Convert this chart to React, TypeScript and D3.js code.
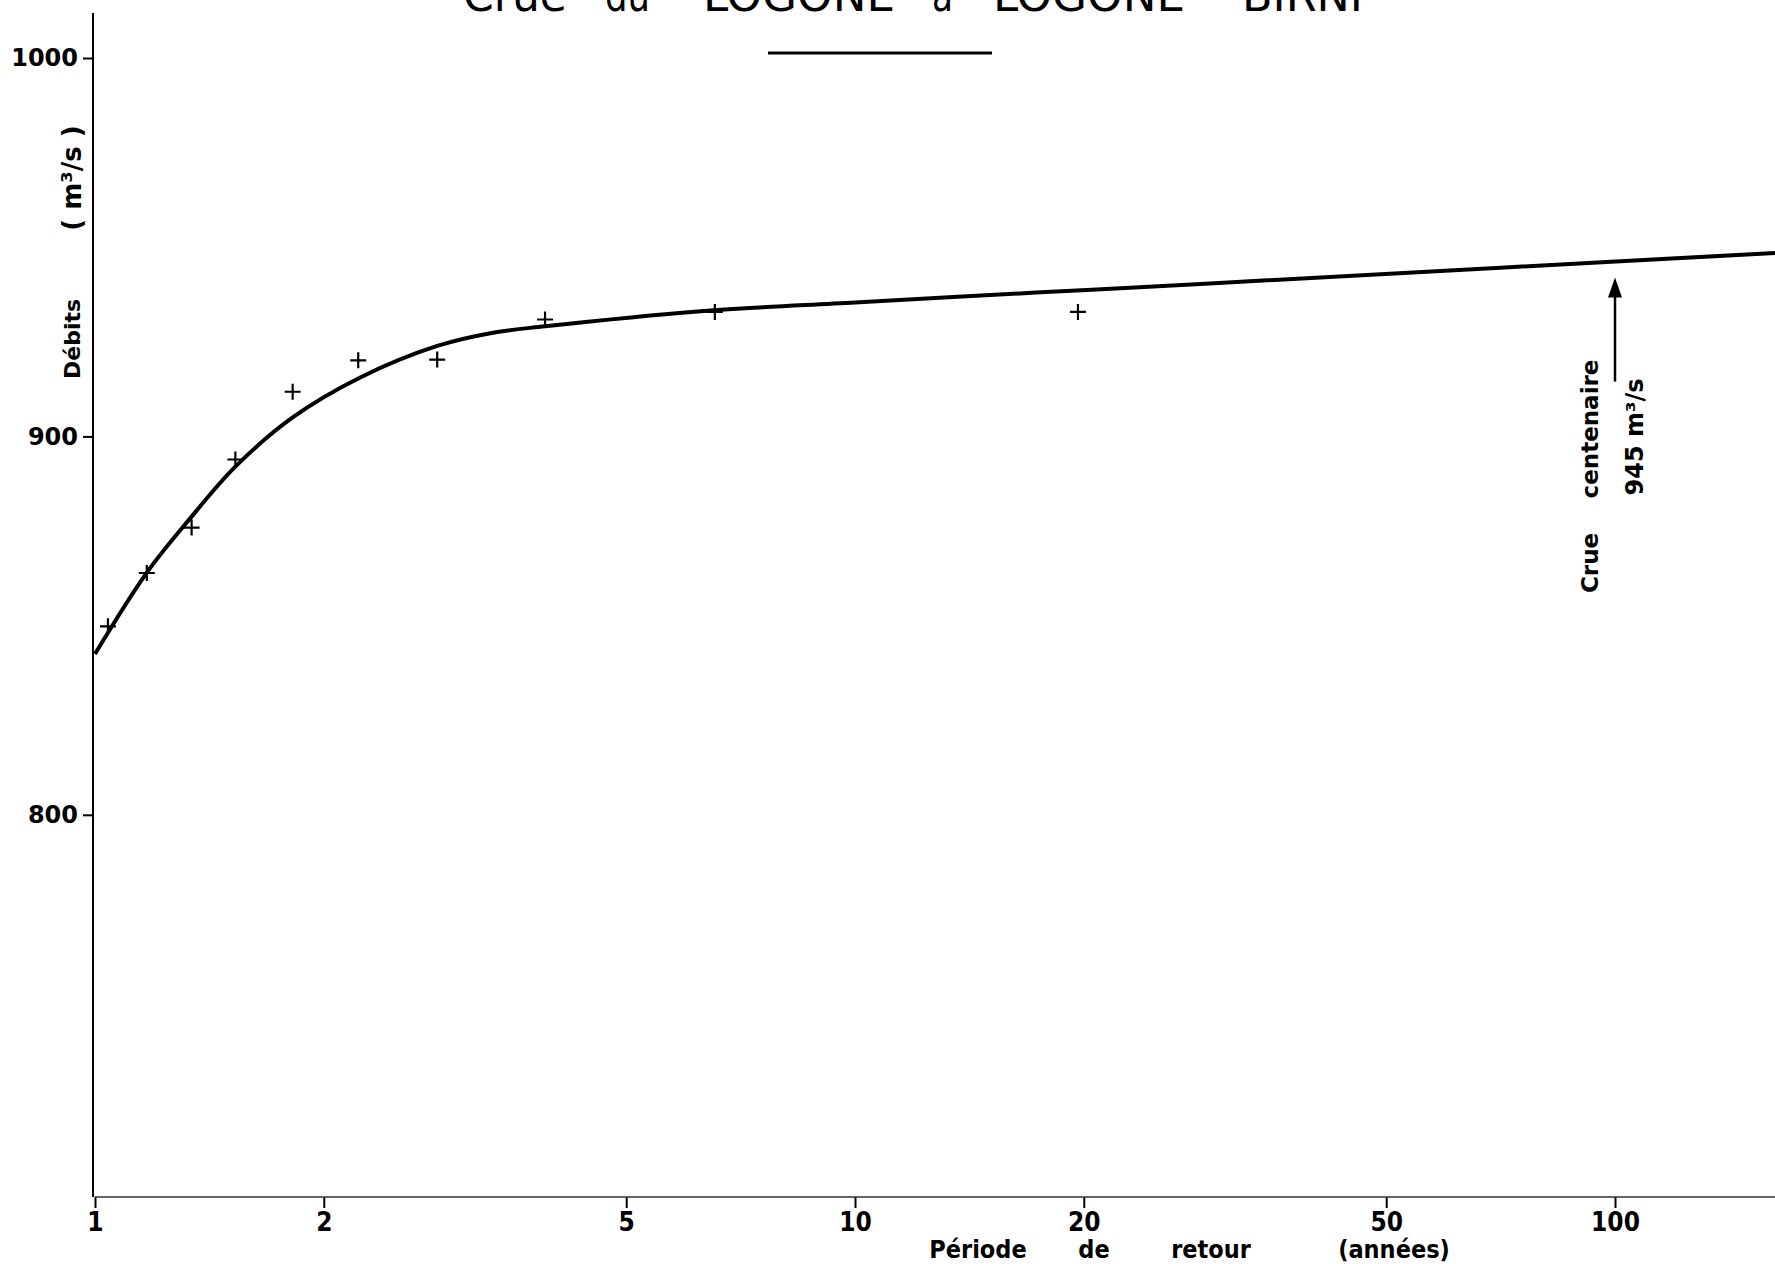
import React, { useEffect, useRef } from "react";
import * as d3 from "d3";

// fitted curve (return period in years, discharge in m3/s)
const curvePeriods = [1, 1.17, 1.33, 1.53, 1.82, 2.23, 2.82, 3.34, 3.91, 6.27, 10, 17.3, 28.5, 70.7, 163];
const curveFlows = [842.5, 864, 878, 892, 905, 915.5, 923.9, 927.4, 929.1, 933.1, 935.4, 938.0, 940.3, 944.6, 948.5];

// observed floods (crosses)
const obsPeriods = [1.04, 1.17, 1.34, 1.53, 1.82, 2.22, 2.82, 3.91, 6.54, 19.65];
const obsFlows = [849.8, 863.9, 875.9, 893.9, 911.8, 920.1, 920.3, 930.9, 932.9, 932.9];

const xTicks = [1, 2, 5, 10, 20, 50, 100];
const yTicks = [800, 900, 1000];

const titleWords = ["Crue", "du", "LOGONE", "à", "LOGONE", "–", "BIRNI"];
const xLabelWords = ["Période", "de", "retour", "(années)"];

const centennialFlow = 945;

function App() {
    const node = useRef<SVGSVGElement>(null);

    useEffect(() => {
        document.body.style.margin = "0";
        document.body.style.overflow = "hidden";

        const width = 1775, height = 1264;
        const svg = d3.select(node.current);
        svg.selectAll("*").remove();

        const x = d3.scaleLog().domain([1, 163]).range([95, 95 + 760 * Math.log10(163)]);
        const y = d3.scaleLinear().domain([699, 1000]).range([1197, 58]);

        const font = "'DejaVu Sans', sans-serif";

        svg.append("rect").attr("width", width).attr("height", height).attr("fill", "#fff");

        // title, cut by the top edge like the scan
        const titleX = [[463, 567], [605, 650], [703, 895], [932, 953], [993, 1185], [1210, 1223], [1242, 1363]];
        svg.append("g").selectAll("text")
            .data(titleWords)
            .join("text")
            .attr("x", (d, i) => titleX[i][0])
            .attr("y", 11)
            .attr("textLength", (d, i) => titleX[i][1] - titleX[i][0])
            .attr("lengthAdjust", "spacingAndGlyphs")
            .style("font-family", font)
            .style("font-size", "44px")
            .style("fill", "#000")
            .text(d => d);

        svg.append("line")
            .attr("x1", 768).attr("x2", 992)
            .attr("y1", 53).attr("y2", 53)
            .style("stroke", "#000")
            .style("stroke-width", 3);

        // y axis
        const yAxis = svg.append("g")
            .attr("transform", "translate(93,0)")
            .call(d3.axisLeft(y).tickValues(yTicks).tickSize(10).tickPadding(5).tickFormat(d3.format("d")));
        yAxis.select(".domain").remove();
        yAxis.selectAll("line").style("stroke", "#000").style("stroke-width", 2);
        yAxis.selectAll("text")
            .style("font-family", font)
            .style("font-weight", "bold")
            .style("font-size", "24px")
            .style("fill", "#000");

        svg.append("line")
            .attr("x1", 93).attr("x2", 93)
            .attr("y1", y(1011.9)).attr("y2", y(699))
            .style("stroke", "#000")
            .style("stroke-width", 2);

        // x axis
        const xAxis = svg.append("g")
            .attr("transform", `translate(0,${y(699)})`)
            .call(d3.axisBottom(x).tickValues(xTicks).tickSize(11).tickPadding(5).tickFormat(d3.format("d")));
        xAxis.select(".domain").remove();
        xAxis.selectAll("line").style("stroke", "#000").style("stroke-width", 2);
        xAxis.selectAll("text")
            .style("font-family", font)
            .style("font-weight", "bold")
            .style("font-stretch", "condensed")
            .style("font-size", "26px")
            .style("fill", "#000");

        svg.append("line")
            .attr("x1", x(1)).attr("x2", width)
            .attr("y1", y(699)).attr("y2", y(699))
            .style("stroke", "#333")
            .style("stroke-width", 1.6);

        // axis titles
        const xLabelX = [978, 1094, 1211, 1394];
        svg.append("g").selectAll("text")
            .data(xLabelWords)
            .join("text")
            .attr("x", (d, i) => xLabelX[i])
            .attr("y", 1258)
            .style("text-anchor", "middle")
            .style("font-family", font)
            .style("font-weight", "bold")
            .style("font-stretch", "condensed")
            .style("font-size", "25px")
            .text(d => d);

        svg.append("text")
            .attr("transform", "translate(80,339) rotate(-90)")
            .style("text-anchor", "middle")
            .style("font-family", font)
            .style("font-weight", "bold")
            .style("font-size", "22px")
            .text("Débits");

        svg.append("text")
            .attr("transform", "translate(81,178) rotate(-90)")
            .style("text-anchor", "middle")
            .style("font-family", font)
            .style("font-weight", "bold")
            .style("font-size", "26px")
            .style("white-space", "pre")
            .text("( m³/s )");

        // fitted curve
        const line = d3.line<number>()
            .x((d, i) => x(curvePeriods[i]))
            .y(d => y(d))
            .curve(d3.curveCatmullRom.alpha(0.5));

        svg.append("path")
            .datum(curveFlows)
            .attr("d", line)
            .style("fill", "none")
            .style("stroke", "#000")
            .style("stroke-width", 4)
            .style("stroke-linejoin", "round");

        // observed points
        const crosses = svg.append("g")
            .selectAll("g")
            .data(obsFlows)
            .join("g")
            .attr("transform", (d, i) => `translate(${x(obsPeriods[i])},${y(d)})`);
        crosses.append("path")
            .attr("d", "M-8,0H8M0,-8V8")
            .style("stroke", "#000")
            .style("stroke-width", 2.2);

        // centennial flood annotation
        const ax = x(100);
        const tipY = y(942);
        const baseY = y(914.5);
        svg.append("line")
            .attr("x1", ax).attr("x2", ax)
            .attr("y1", baseY).attr("y2", tipY + 14)
            .style("stroke", "#000")
            .style("stroke-width", 2.5);
        svg.append("path")
            .attr("d", `M${ax},${tipY}L${ax - 7},${tipY + 20}L${ax + 7},${tipY + 20}Z`)
            .style("fill", "#000");

        svg.append("text")
            .attr("transform", "translate(1598,563) rotate(-90)")
            .style("text-anchor", "middle")
            .style("font-family", font)
            .style("font-weight", "bold")
            .style("font-size", "23px")
            .text("Crue");
        svg.append("text")
            .attr("transform", "translate(1598,429) rotate(-90)")
            .style("text-anchor", "middle")
            .style("font-family", font)
            .style("font-weight", "bold")
            .style("font-size", "23px")
            .text("centenaire");
        svg.append("text")
            .attr("transform", "translate(1643,437) rotate(-90)")
            .style("text-anchor", "middle")
            .style("font-family", font)
            .style("font-weight", "bold")
            .style("font-size", "24px")
            .text(`${centennialFlow} m³/s`);
    }, []);

    return <svg ref={node} width={1775} height={1264} style={{ display: "block" }}></svg>;
}

export default App;
